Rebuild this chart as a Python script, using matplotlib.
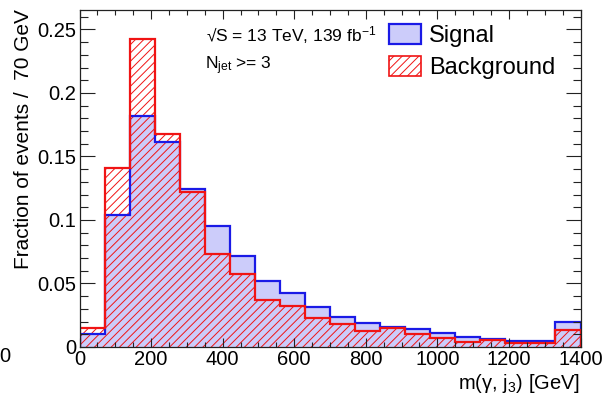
import matplotlib
matplotlib.use("Agg")
import matplotlib.pyplot as plt
import numpy as np
from matplotlib.patches import Patch
from matplotlib.ticker import MultipleLocator, FuncFormatter

# ---- data (fraction of events per 70 GeV bin) ----
bin_edges = [0, 70, 140, 210, 280, 350, 420, 490, 560, 630, 700,
             770, 840, 910, 980, 1050, 1120, 1190, 1260, 1330, 1400]
signal = [0.0102, 0.1040, 0.1819, 0.1617, 0.1244, 0.0955, 0.0719, 0.0522,
          0.0423, 0.0318, 0.0239, 0.0186, 0.0160, 0.0142, 0.0108, 0.0076,
          0.0060, 0.0050, 0.0045, 0.0194]
background = [0.0147, 0.1407, 0.2423, 0.1675, 0.1223, 0.0732, 0.0575, 0.0370,
              0.0325, 0.0226, 0.0181, 0.0126, 0.0147, 0.0100, 0.0073, 0.0042,
              0.0055, 0.0029, 0.0029, 0.0134]
legend_labels = ["Signal", "Background"]
x_label = r"m($\gamma$, j$_{\mathregular{3}}$) [GeV]"
y_label = "Fraction of events /  70 GeV"

plt.rcParams["font.family"] = ["Liberation Sans", "DejaVu Sans"]
plt.rcParams["mathtext.fontset"] = "custom"
plt.rcParams["mathtext.rm"] = "Liberation Sans"
plt.rcParams["mathtext.it"] = "Liberation Sans"
plt.rcParams["mathtext.default"] = "regular"
plt.rcParams["hatch.linewidth"] = 0.7
plt.rcParams["hatch.color"] = "#ff1a1a"

W, H = 605, 396
fig = plt.figure(figsize=(W / 100, H / 100), dpi=100)
L, R, T, B = 79.5, 580.5, 9.5, 347.0
ax = fig.add_axes([L / W, (H - B) / H, (R - L) / W, (B - T) / H])

sig_face = "#ccccfa"
sig_edge = "#1a1ae6"
bkg_edge = "#f01414"

ax.stairs(signal, bin_edges, fill=True, facecolor=sig_face, edgecolor="none",
          linewidth=0, zorder=1)
ax.stairs(background, bin_edges, fill=True, facecolor="none", edgecolor=bkg_edge,
          hatch="////", linewidth=0, zorder=1.1)
ax.stairs(signal, bin_edges, fill=False, edgecolor=sig_edge, linewidth=1.6,
          baseline=0, zorder=1.2)
ax.stairs(background, bin_edges, fill=False, edgecolor=bkg_edge, linewidth=1.6,
          baseline=0, zorder=1.3)

ax.set_xlim(0, 1400)
ax.set_ylim(0, 0.2657)
ax.xaxis.set_major_locator(MultipleLocator(200))
ax.xaxis.set_minor_locator(MultipleLocator(50))
ax.yaxis.set_major_locator(MultipleLocator(0.05))
ax.yaxis.set_minor_locator(MultipleLocator(0.01))
ax.yaxis.set_major_formatter(FuncFormatter(lambda v, p: "%g" % round(v, 4)))

ax.tick_params(axis="both", which="both", direction="in", top=True, right=True,
               width=0.8, color="#222222", labelsize=14.5)
ax.tick_params(axis="y", which="major", length=11, pad=2.5)
ax.tick_params(axis="y", which="minor", length=5.8)
ax.tick_params(axis="x", which="major", length=6.5, pad=2)
ax.tick_params(axis="x", which="minor", length=3.6)
for s in ax.spines.values():
    s.set_linewidth(0.9)
    s.set_color("#222222")

ax.set_xlabel(x_label, fontsize=14.5, loc="right", labelpad=2)
ax.set_ylabel(y_label, fontsize=15, loc="top", labelpad=3)

ax.text(206 / W, 1 - 41.5 / H, "\u221aS = 13 TeV, 139 fb$^{\\mathregular{-1}}$",
        transform=fig.transFigure, fontsize=12.5, va="baseline", ha="left")
ax.text(205 / W, 1 - 69.5 / H, r"N$_{\mathregular{jet}}$ >= 3",
        transform=fig.transFigure, fontsize=12.5, va="baseline", ha="left")

# stray "0" at the left edge
fig.text(5 / W, 1 - 357 / H, "0", fontsize=14.5, ha="center", va="center")

handles = [Patch(facecolor=sig_face, edgecolor=sig_edge, linewidth=1.6),
           Patch(facecolor="white", edgecolor=bkg_edge, linewidth=1.2, hatch="////")]
ax.legend(handles, legend_labels, loc="upper left",
          bbox_to_anchor=(389 / W, 1 - 24 / H), bbox_transform=fig.transFigure,
          frameon=False, fontsize=17, handlelength=1.36, handleheight=0.93,
          handletextpad=0.32, labelspacing=0.36, borderpad=0, borderaxespad=0)

fig.savefig("out.png", dpi=100)
